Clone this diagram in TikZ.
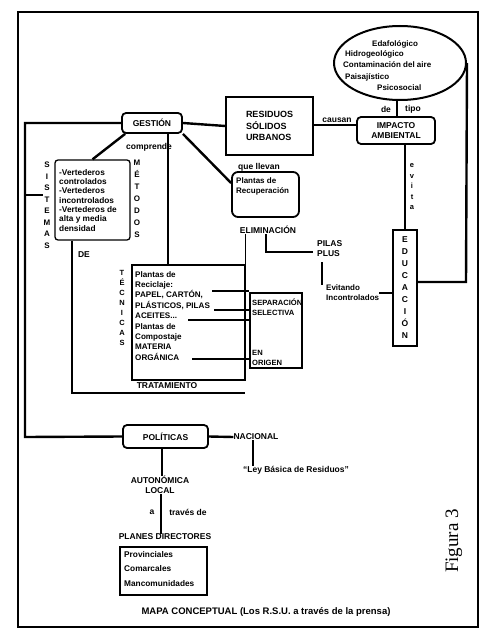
\documentclass[tikz,border=0pt]{standalone}
\usepackage{fontspec}
\setmainfont{Liberation Sans}
\newfontfamily\figfont{Liberation Serif}
\usetikzlibrary{shapes.geometric,shapes.misc}
\begin{document}
\begin{tikzpicture}[x=1pt,y=-1pt,
  lbl/.style={font=\bfseries\fontsize{8.5}{10}\selectfont, inner sep=0pt},
  elbl/.style={font=\bfseries\fontsize{8}{10}\selectfont, inner sep=0pt, anchor=west},
  col/.style={font=\bfseries\fontsize{8}{11.5}\selectfont, inner sep=0pt, align=center},
  box/.style={draw, line width=1.6pt, inner sep=0pt},
  rbox/.style={draw, line width=1.8pt, rounded corners=4pt, inner sep=0pt},
  conn/.style={line width=1.3pt},
  thickconn/.style={line width=2.4pt}]
\useasboundingbox (0,0) rectangle (493,639);
\draw[line width=1.2pt] (18,12) rectangle (478,627);

% main nodes
\node[ellipse, draw, line width=2pt, minimum width=132pt, minimum height=74pt] (elip) at (400,63) {};
\node[elbl] (e1) at (372,44) {Edafológico};
\node[elbl] (e2) at (345,54) {Hidrogeológico};
\node[elbl] (e3) at (343,65) {Contaminación del aire};
\node[elbl] (e4) at (345,77) {Paisajístico};
\node[elbl] (e5) at (377,88) {Psicosocial};

\node[rbox, minimum width=78pt, minimum height=27pt, lbl, align=center] (imp) at (396,130.5) {IMPACTO\\AMBIENTAL};
\node[box, minimum width=87pt, minimum height=58pt, lbl, align=left, font=\bfseries\fontsize{9}{11.5}\selectfont] (resid) at (269.5,126) {RESIDUOS\\SÓLIDOS\\URBANOS};
\node[rbox, minimum width=60pt, minimum height=20pt, lbl] (gest) at (152,123) {GESTIÓN};

\node[rbox, rounded corners=6pt, minimum width=67pt, minimum height=45pt] (recup) at (265.5,194.5) {};
\node[lbl, anchor=north west, align=left, font=\bfseries\fontsize{8}{10}\selectfont] (recupt) at (236,178) {Plantas de\\Recuperación};

\node[rbox, rounded corners=3pt, line width=1.3pt, minimum width=75pt, minimum height=80pt] (lbox) at (92.5,200) {};
\node[lbl, anchor=north west, align=left, font=\bfseries\fontsize{8.3}{9.3}\selectfont] (lboxt) at (59,169) {-Vertederos\\controlados\\-Vertederos\\incontrolados\\-Vertederos de\\alta y media\\densidad};
\node[col] (sis) at (47,205) {S\\I\\S\\T\\E\\M\\A\\S};
\node[col, font=\bfseries\fontsize{8}{12}\selectfont] (met) at (137,199) {M\\É\\T\\O\\D\\O\\S};

\node[box, line width=1.5pt, minimum width=113pt, minimum height=115pt] (mbox) at (188.5,322.5) {};
\node[col, font=\bfseries\fontsize{7.5}{10}\selectfont] (tec) at (122,308) {T\\É\\C\\N\\I\\C\\A\\S};
\node[lbl, anchor=north west, align=left, font=\bfseries\fontsize{8.1}{10.4}\selectfont] (mboxt) at (135,271) {Plantas de\\Reciclaje:\\PAPEL, CARTÓN,\\PLÁSTICOS, PILAS\\ACEITES...\\Plantas de\\Compostaje\\MATERIA\\ORGÁNICA};
\node[box, line width=1.3pt, minimum width=52pt, minimum height=75pt] (sep) at (276,330.5) {};
\node[lbl, anchor=north west, align=left, font=\bfseries\fontsize{7.6}{10}\selectfont] (sept) at (252,299) {SEPARACIÓN\\SELECTIVA};
\node[lbl, anchor=north west, align=left, font=\bfseries\fontsize{7.6}{10}\selectfont] (sepb) at (252,350) {EN\\ORIGEN};
\node[lbl] (trat) at (167,386) {TRATAMIENTO};

\node[chamfered rectangle, chamfered rectangle corners={north west,north east}, chamfered rectangle xsep=3pt, chamfered rectangle ysep=3pt, draw, line width=1.5pt, minimum width=24pt, minimum height=116pt, inner sep=0pt] (educ) at (405,288) {};
\node[col, font=\bfseries\fontsize{8.5}{12}\selectfont] (educt) at (405,288) {E\\D\\U\\C\\A\\C\\I\\Ó\\N};

\node[rbox, minimum width=85pt, minimum height=23pt, lbl] (pol) at (165.5,436.5) {POLÍTICAS};
\node[box, line width=1.5pt, minimum width=87pt, minimum height=48pt] (planes) at (163.5,571) {};
\node[lbl, anchor=north west, align=left, font=\bfseries\fontsize{8.3}{14.5}\selectfont] (planest) at (124,551) {Provinciales\\Comarcales\\Mancomunidades};

% labels
\node[lbl] (causan) at (337,120) {causan};
\node[lbl] (de) at (386,109) {de};
\node[lbl] (tipo) at (413,109) {tipo};
\node[col, font=\bfseries\fontsize{7.5}{10.5}\selectfont] (evita) at (412,187) {e\\v\\i\\t\\a};
\node[lbl] (compr) at (149,147) {comprende};
\node[lbl] (quell) at (259,167) {que llevan};
\node[lbl] (elim) at (268,230) {ELIMINACIÓN};
\node[lbl, align=left, anchor=west] (pilas) at (317,249) {PILAS\\PLUS};
\node[lbl, align=left, anchor=west, font=\bfseries\fontsize{8}{10}\selectfont] (evit) at (326,293) {Evitando\\Incontrolados};
\node[lbl] (dee) at (84,255) {DE};
\node[lbl] (nac) at (256,437) {NACIONAL};
\node[lbl] (ley) at (296,470) {“Ley Básica de Residuos”};
\node[lbl, align=center] (auto) at (160,485) {AUTONÓMICA\\LOCAL};
\node[lbl] (a) at (152,512) {a};
\node[lbl] (trav) at (188,512) {través de};
\node[lbl] (pdir) at (165,537) {PLANES DIRECTORES};
\node[lbl, font=\bfseries\fontsize{9.5}{11}\selectfont] (capt) at (266,612) {MAPA CONCEPTUAL (Los R.S.U. a través de la prensa)};
\node[font=\figfont\fontsize{19}{19}\selectfont, rotate=90, inner sep=0pt] (fig) at (454,541) {Figura 3};

% coordinates
\coordinate (tTop) at (25,123);
\coordinate (tBot) at (25,437);
\coordinate (tMid) at (25,195);
\coordinate (rBot) at (466,282);
\coordinate (eA) at (266,252);
\coordinate (eB) at (313,252);
\coordinate (lA) at (72,393);
\coordinate (lB) at (245,393);

% connectors
\draw[thickconn] (gest.west) -- (tTop) -- (tBot) -- (pol.west);
\draw[conn] (tMid) -- (tMid -| sis.west);
\draw[thickconn] (gest.east) -- (resid.west);
\draw[conn] (resid.east |- 0,125) -- (imp.west |- 0,125);
\draw[thickconn] (elip.south -| 397,0) -- (imp.north -| 397,0);
\draw[conn] (imp.south -| educ.north) -- (educ.north);
\draw[thickconn] (elip.east) -- (rBot) -- (rBot -| educ.east);
\draw[thickconn] (gest.south west) ++(4,0) -- (lbox.north);
\draw[conn] (gest.south -| 168,0) -- (mbox.north -| 168,0);
\draw[thickconn] (gest.south east) -- (recup.west |- 0,183);
\draw[conn] (elim.south -| eA) -- (eA) -- (eB);
\draw[conn] (elim.south -| mbox.east) -- (mbox.north east);
\draw[conn] (322,262) -- (322,285);
\draw[conn] (evit.east |- 0,293) -- (educ.west |- 0,293);
\draw[thickconn] (lbox.south -| 72,0) -- (lA) -- (lB);
\draw[conn] (212,291) -- (sep.west |- 0,291);
\draw[thickconn] (214,310) -- (sep.west |- 0,310);
\draw[thickconn] (188,320) -- (sep.west |- 0,320);
\draw[conn] (192,359) -- (sep.west |- 0,359);
\draw[thickconn] (pol.east) -- (nac.west);
\draw[thickconn] (nac.south -| 253,0) -- (ley.north -| 253,0);
\draw[thickconn] (pol.south -| 162,0) -- (auto.north -| 162,0);
\draw[conn] (auto.south -| 161,0) -- (pdir.north -| 161,0);
\end{tikzpicture}
\end{document}
